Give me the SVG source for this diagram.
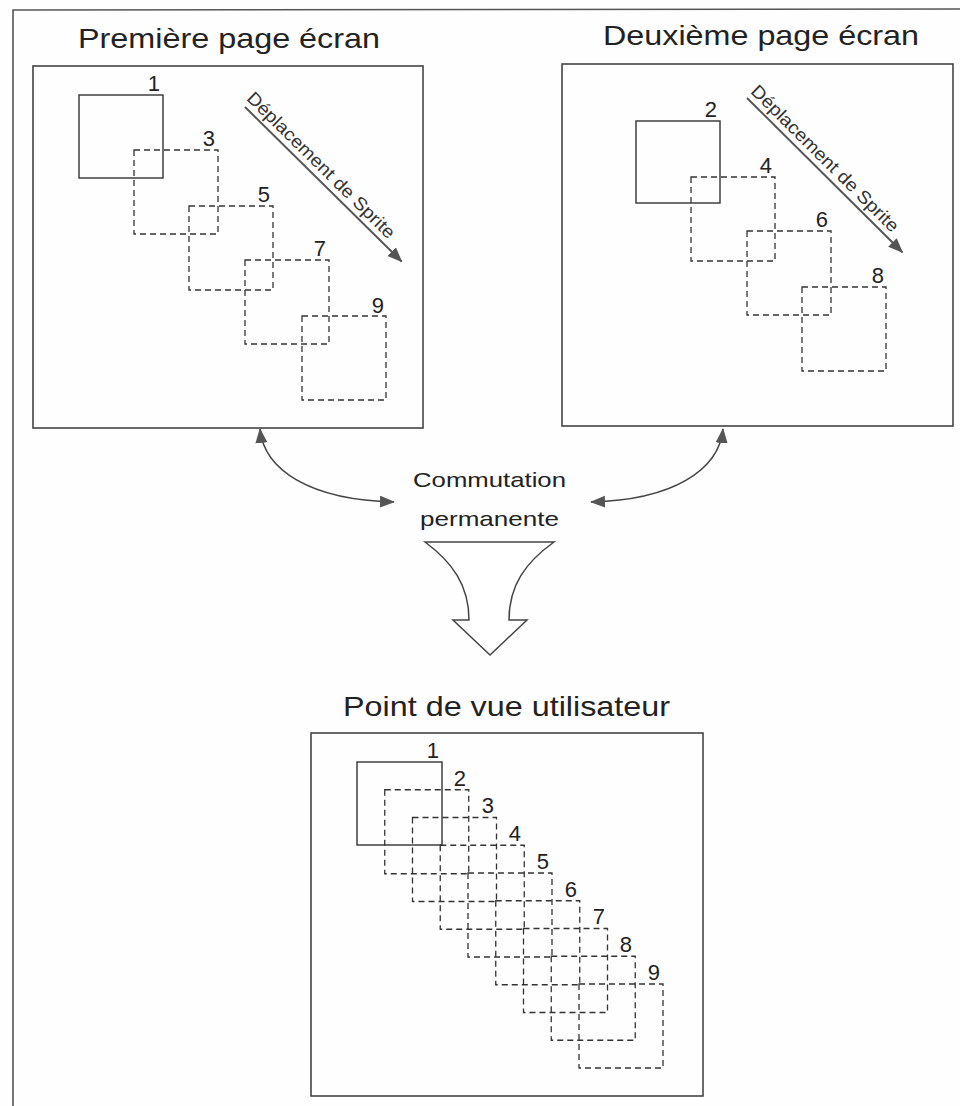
<svg xmlns="http://www.w3.org/2000/svg" width="960" height="1106" viewBox="0 0 960 1106">
  <style>
    .title { font-family: "Liberation Sans", Arial, sans-serif; font-size: 28px; fill: #222; }
    .label { font-family: "Liberation Sans", Arial, sans-serif; font-size: 21px; fill: #222; }
    .num { font-family: "Liberation Sans", Arial, sans-serif; font-size: 22px; fill: #222; text-anchor: end; }
    .diag { font-family: "Liberation Sans", Arial, sans-serif; font-size: 18px; fill: #333; }
    .frame { fill: none; stroke: #444; stroke-width: 1.6; }
    .solid { fill: none; stroke: #333; stroke-width: 1.4; }
    .dash { fill: none; stroke: #333; stroke-width: 1.3; stroke-dasharray: 6 4; }
    .move { fill: none; stroke: #555; stroke-width: 2; }
    .link { fill: none; stroke: #444; stroke-width: 1.6; }
  </style>
  <defs>
    <marker id="head" markerUnits="userSpaceOnUse" markerWidth="20" markerHeight="14" refX="14" refY="6" orient="auto-start-reverse">
      <path d="M0,0 L15,6 L0,12 Z" fill="#555"/>
    </marker>
    <rect id="sq" width="84" height="84"/>
  </defs>

  <rect width="960" height="1106" fill="#fefefe"/>

  <!-- outer border: top rule and left rule -->
  <path d="M13,1106 L13,10 L960,9" fill="none" stroke="#555" stroke-width="1.6"/>

  <!-- first screen page -->
  <g id="page1">
    <text class="title" x="78" y="48" textLength="302" lengthAdjust="spacingAndGlyphs">Première page écran</text>
    <rect class="frame" x="33" y="66" width="390" height="362"/>
    <rect class="solid" x="79" y="95" width="84" height="83"/>
    <text class="num" x="160" y="91">1</text>
    <use href="#sq" class="dash" x="134" y="150"/>
    <text class="num" x="215" y="146">3</text>
    <use href="#sq" class="dash" x="189" y="206"/>
    <text class="num" x="270" y="202">5</text>
    <use href="#sq" class="dash" x="245" y="260"/>
    <text class="num" x="326" y="256">7</text>
    <use href="#sq" class="dash" x="302" y="316"/>
    <text class="num" x="384" y="313">9</text>
    <g transform="translate(245,107) rotate(44.6)">
      <line class="move" x1="0" y1="0" x2="220" y2="0" marker-end="url(#head)"/>
      <text class="diag" x="-5" y="-6" textLength="200" lengthAdjust="spacingAndGlyphs">Déplacement de Sprite</text>
    </g>
  </g>

  <!-- second screen page -->
  <g id="page2">
    <text class="title" x="603" y="45" textLength="316" lengthAdjust="spacingAndGlyphs">Deuxième page écran</text>
    <rect class="frame" x="562" y="64" width="391" height="362"/>
    <rect class="solid" x="636" y="121" width="84" height="82"/>
    <text class="num" x="717" y="117">2</text>
    <use href="#sq" class="dash" x="691" y="177"/>
    <text class="num" x="772" y="173">4</text>
    <use href="#sq" class="dash" x="747" y="231"/>
    <text class="num" x="828" y="227">6</text>
    <use href="#sq" class="dash" x="802" y="287"/>
    <text class="num" x="884" y="283">8</text>
    <g transform="translate(747,98) rotate(44.8)">
      <line class="move" x1="0" y1="0" x2="219" y2="0" marker-end="url(#head)"/>
      <text class="diag" x="-2" y="-6" textLength="200" lengthAdjust="spacingAndGlyphs">Déplacement de Sprite</text>
    </g>
  </g>

  <!-- switching label -->
  <g id="switch">
    <text class="label" x="413" y="487" textLength="153" lengthAdjust="spacingAndGlyphs">Commutation</text>
    <text class="label" x="420" y="526" textLength="139" lengthAdjust="spacingAndGlyphs">permanente</text>
  </g>

  <!-- hollow funnel arrow -->
  <g id="funnel">
    <path d="M425,542 L554,542 C526,562 509,585 509,620 L527,620 L490,655 L453,620 L469,620 C469,585 452,562 425,542 Z" fill="#fff" stroke="#444" stroke-width="1.5" stroke-linejoin="miter"/>
  </g>

  <!-- user view -->
  <g id="userview">
    <text class="title" x="343" y="716" textLength="327" lengthAdjust="spacingAndGlyphs">Point de vue utilisateur</text>
    <rect class="frame" x="311" y="733" width="392" height="363"/>
    <rect class="solid" x="357" y="762" width="85" height="83"/>
    <text class="num" x="439" y="758">1</text>
    <use href="#sq" class="dash" x="384.75" y="789.75"/>
    <text class="num" x="466" y="786">2</text>
    <use href="#sq" class="dash" x="412.5" y="817.5"/>
    <text class="num" x="494" y="813">3</text>
    <use href="#sq" class="dash" x="440.25" y="845.25"/>
    <text class="num" x="521" y="841">4</text>
    <use href="#sq" class="dash" x="468" y="873"/>
    <text class="num" x="549" y="869">5</text>
    <use href="#sq" class="dash" x="495.75" y="900.75"/>
    <text class="num" x="577" y="897">6</text>
    <use href="#sq" class="dash" x="523.5" y="928.5"/>
    <text class="num" x="605" y="924">7</text>
    <use href="#sq" class="dash" x="551.25" y="956.25"/>
    <text class="num" x="632" y="952">8</text>
    <use href="#sq" class="dash" x="579" y="984"/>
    <text class="num" x="660" y="980">9</text>
  </g>

  <!-- connectors -->
  <g id="connectors">
    <path class="link" d="M260,429 C264,470 310,500 394,502" marker-start="url(#head)" marker-end="url(#head)"/>
    <path class="link" d="M723,429 C719,470 673,500 591,502" marker-start="url(#head)" marker-end="url(#head)"/>
  </g>
</svg>
